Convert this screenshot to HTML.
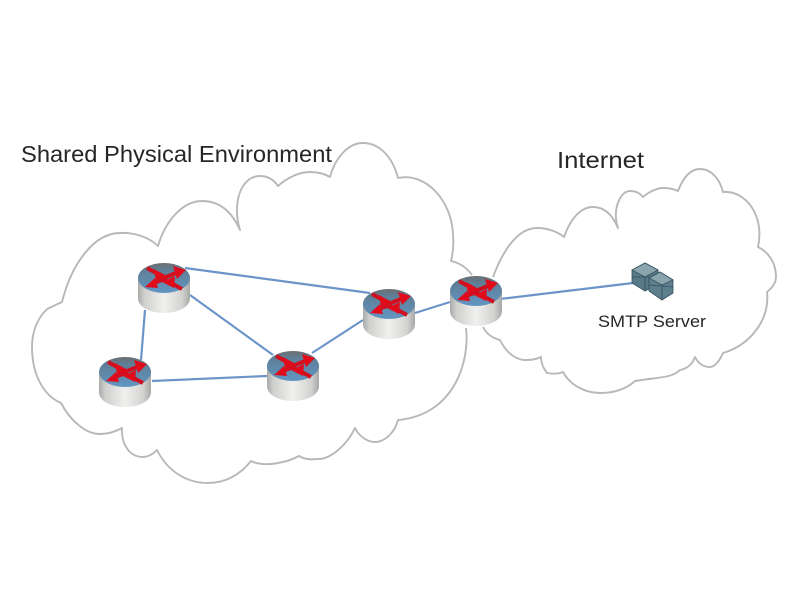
<!DOCTYPE html>
<html><head><meta charset="utf-8"><style>html,body{margin:0;padding:0;background:#fff}svg{display:block;filter:blur(.35px)}</style></head>
<body>
<svg width="800" height="600" viewBox="0 0 800 600" xmlns="http://www.w3.org/2000/svg">
<defs>
<linearGradient id="c" x1="0" x2="1" y1="0" y2="0"><stop offset="0" stop-color="#a9aba8"/><stop offset=".12" stop-color="#cfd0cd"/><stop offset=".5" stop-color="#f0f0ee"/><stop offset=".85" stop-color="#d2d3d0"/><stop offset="1" stop-color="#a6a8a5"/></linearGradient>
<linearGradient id="t" x1="0" x2="0" y1="0" y2="1"><stop offset="0" stop-color="#6c6f70"/><stop offset=".25" stop-color="#5e7f98"/><stop offset="1" stop-color="#6295c2"/></linearGradient>
<g id="r">
<path d="M-26 0V20C-26 29-14 35 0 35S26 29 26 20V0z" fill="url(#c)"/>
<ellipse cx="0" cy="0" rx="26" ry="15" fill="url(#t)"/>
<g stroke="#d10f1e" stroke-width="4" fill="none">
<path d="M-3 1L12-5"/><path d="M3 0L-10 5"/><path d="M-17-10L-6-4"/><path d="M18 11L7 5"/>
</g>
<g fill="#e00c1c">
<path d="M22-8L9-12L13 1z"/><path d="M-19 9L-9 0L-6 10z"/>
<path d="M3-2L-10-9L-8 3z"/><path d="M-2 4L11-2L10 10z"/>
</g>
</g>
</defs>
<g fill="none" stroke="#b8b8b8" stroke-width="1.9" stroke-linejoin="round">
<path d="M47 309L62 302C72 262 95 233 120 233C135 232 150 238 158 246C165 222 182 201 202 201C220 201 232 212 240 230C232 205 240 176 260 176C268 176 274 180 278 186C288 177 300 172 310 172C318 172 325 174 330 177C335 158 348 143 363 143C380 143 393 158 398 178C425 172 452 200 453 235C454 245 453 253 451 261C460 263 467 268 472 275"/>
<path d="M466 328C470 360 455 415 398 420C395 432 385 442 375 442C367 442 359 436 355 428C347 445 330 460 317 459C310 460 304 459 299 456C288 462 265 468 251 461C240 475 225 483 208 483C185 483 167 470 157 450C152 455 148 457 143 457C130 457 121 445 122 428C115 432 108 434 100 434C85 434 70 420 61 403C42 395 32 372 32 347C32 330 38 318 47 309"/>
<path d="M493 277C503 250 518 228 537 228C548 228 558 232 564 237C570 220 580 207 593 207C605 207 613 216 618 228C612 210 620 191 630 191C636 191 640 193 643 197C650 191 658 188 663 188C669 188 674 189 678 191C683 178 690 169 700 169C712 169 720 180 723 192C745 190 765 215 758 247C768 252 776 262 776 277C776 283 772 288 767 292C770 320 750 345 723 353C720 360 715 367 710 367C703 367 698 363 695 357C692 365 686 369 680 370C672 378 660 377 635 381C625 390 612 393 600 393C585 393 570 385 563 372C558 374 552 374 547 373C543 368 541 362 541 357C535 360 530 360 523 360C512 358 505 350 500 340C492 338 486 333 483 327"/>
</g>
<g stroke="#6c94c8" stroke-width="2.2" fill="none">
<path d="M185 268L370 293M190 295L273 355M145 310L141 360M152 381L267 376M312 353L363 320M415 313L450 302M500 299L633 283"/>
</g>
<use href="#r" x="164" y="278"/>
<use href="#r" x="125" y="372"/>
<use href="#r" x="293" y="366"/>
<use href="#r" x="389" y="304"/>
<use href="#r" x="476" y="291"/>
<g stroke="#34505e" stroke-width=".8">
<path d="M632 270L645 263L658 270V284L645 291L632 283z" fill="#587a88"/>
<path d="M632 270L645 277L658 270L645 263z" fill="#8ba5ae"/>
<path d="M645 277V291M632 277L658 277" fill="none"/>
<path d="M649 278L660 272L673 280V293L662 300L649 291z" fill="#5d7f8e"/>
<path d="M649 278L662 285L673 280L660 272z" fill="#8ba5ae"/>
<path d="M662 285V300M649 285L673 287" fill="none"/>
</g>
<g font-family="'Liberation Sans',sans-serif" fill="#262626">
<text x="21" y="162" font-size="23" textLength="311" lengthAdjust="spacingAndGlyphs">Shared Physical Environment</text>
<text x="557" y="168" font-size="23" textLength="87" lengthAdjust="spacingAndGlyphs">Internet</text>
<text x="598" y="327" font-size="17" textLength="108" lengthAdjust="spacingAndGlyphs">SMTP Server</text>
</g>
</svg>
</body></html>
